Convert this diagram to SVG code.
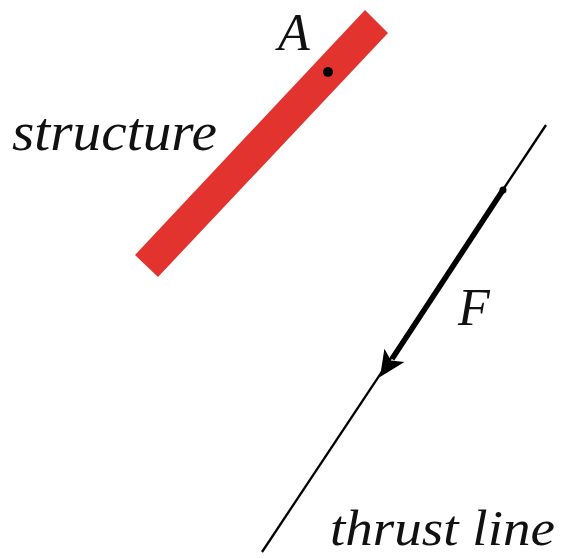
<svg xmlns="http://www.w3.org/2000/svg" width="565" height="559" viewBox="0 0 565 559">
<style>
.lbl{font-family:"Liberation Serif","DejaVu Serif",serif;font-style:italic;fill:#111}
.thin{stroke:#000;stroke-width:2.3}
</style>
<rect width="565" height="559" fill="#fff"/>
<g id="structure">
<polygon points="365,10 388,33 158,277 135,255" fill="#e2332f"/>
<circle cx="328" cy="72" r="5" fill="#000"/>
<text class="lbl" x="278" y="50" font-size="52">A</text>
<text class="lbl" x="12" y="150" font-size="54" textLength="205" lengthAdjust="spacingAndGlyphs">structure</text>
</g>
<g id="thrust-line">
<line class="thin" x1="546" y1="125" x2="262" y2="552"/>
<text class="lbl" x="330" y="545" font-size="50" textLength="225" lengthAdjust="spacingAndGlyphs">thrust line</text>
</g>
<g id="connectors">
<line x1="503" y1="190" x2="392" y2="359" stroke="#000" stroke-width="5.5"/>
<circle cx="503" cy="190" r="3.5" fill="#000"/>
<polygon points="380,377 404.4,362 391,360.4 384.4,348.8" fill="#000"/>
<text class="lbl" x="458" y="325" font-size="52">F</text>
</g>
</svg>
